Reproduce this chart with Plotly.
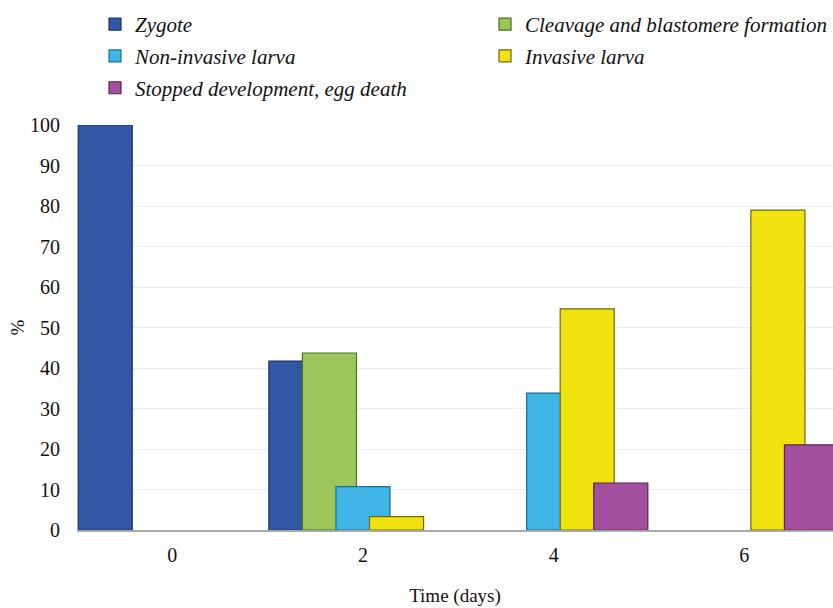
import plotly.graph_objects as go

# Embryo development stages over time (% of eggs)
days = [0, 2, 4, 6]
day_labels = ["0", "2", "4", "6"]

zygote = [100, 41.7, None, None]
cleavage = [None, 43.7, None, None]
non_invasive = [None, 10.7, 33.8, None]
invasive = [None, 3.3, 54.6, 79.0]
stopped = [None, None, 11.6, 21.0]

series = [
    ("Zygote", zygote, "#3058A4", "#1B3466", "legend"),
    ("Cleavage and blastomere formation", cleavage, "#9CC65A", "#4E6E22", "legend2"),
    ("Non-invasive larva", non_invasive, "#3FB6E6", "#1A6F92", "legend"),
    ("Invasive larva", invasive, "#F1E30F", "#6E6A10", "legend2"),
    ("Stopped development, egg death", stopped, "#A24F9E", "#5A2458", "legend"),
]

bar_w = 0.567     # bar width in axis units
step = 0.352      # distance between neighbouring bars in a group (bars overlap)

serif = "Liberation Serif"

# plot-area geometry in pixels (used to place the legends in paper units)
L, T, W, H = 77, 125, 756, 405


def px_x(p):
    return (p - L) / W


def px_y(p):
    return (T + H - p) / H


fig = go.Figure()
for i, (name, vals, color, edge, leg) in enumerate(series):
    fig.add_trace(go.Bar(
        x=days, y=vals, name=name,
        width=bar_w, offset=(i - 2) * step - bar_w / 2,
        marker=dict(color=color, line=dict(color=edge, width=1.2)),
        legend=leg, legendgroup=name,
    ))

legend_font = dict(family=serif, size=21, style="italic", color="#111111")

fig.update_layout(
    width=833, height=608,
    margin=dict(l=L, r=833 - L - W, t=T, b=608 - T - H, autoexpand=False),
    barmode="overlay",
    plot_bgcolor="white", paper_bgcolor="white",
    font=dict(family=serif, size=20, color="#111111"),
    showlegend=True,
    legend=dict(
        x=px_x(95), y=px_y(4), xanchor="left", yanchor="top", orientation="v",
        font=legend_font, tracegroupgap=1.5, bgcolor="rgba(0,0,0,0)",
    ),
    legend2=dict(
        x=px_x(485), y=px_y(4), xanchor="left", yanchor="top", orientation="v",
        font=legend_font, tracegroupgap=1.5, bgcolor="rgba(0,0,0,0)",
    ),
    xaxis=dict(
        range=[-1, 6.93], tickmode="array", tickvals=days, ticktext=day_labels,
        showgrid=False, zeroline=False, showline=True,
        linecolor="#A9A9A9", linewidth=2, ticks="",
        ticklabelstandoff=6,
        title=dict(text="Time (days)", font=dict(family=serif, size=19), standoff=24),
    ),
    yaxis=dict(
        range=[0, 100], dtick=10, showgrid=True, gridcolor="#EDEDED", gridwidth=1,
        zeroline=False, showline=False, ticks="", ticklabelstandoff=16,
        title=dict(text="%", font=dict(family=serif, size=19), standoff=0),
    ),
)

fig.write_html("out.html")
